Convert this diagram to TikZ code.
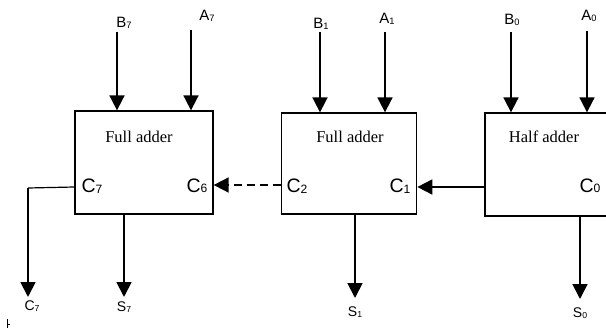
\documentclass[tikz,border=0pt]{standalone}
\usepackage{fontspec}
\setmainfont{Liberation Serif}
\newfontfamily\lab{Liberation Sans}
\usetikzlibrary{arrows.meta}
\newcommand{\sbs}[1]{\raisebox{-0.5pt}{\fontsize{0.62em}{1em}\selectfont #1}}
\tikzset{
  blk/.style={draw, line width=1.3pt, inner sep=0pt},
  arr/.style={line width=1.8pt, -{Triangle[width=15pt,length=15pt]}},
  inlab/.style={font=\lab\fontsize{15}{17}\selectfont, inner sep=0pt},
  carry/.style={font=\lab\fontsize{19.5}{21}\selectfont, inner sep=0pt},
  outlab/.style={font=\lab\fontsize{14}{16}\selectfont, inner sep=0pt},
  title/.style={font=\fontsize{16.5}{18}\selectfont, inner sep=0pt}
}
\begin{document}
\begin{tikzpicture}[x=1pt,y=-1pt]
\useasboundingbox (0,0) rectangle (606,329);
\clip (0,0) rectangle (606,329);
% blocks
\node[blk, minimum width=138pt, minimum height=103pt] (fa7) at (144,162.5) {};
\node[blk, minimum width=135pt, minimum height=101pt] (fa1) at (349.2,163.5) {};
\node[blk, minimum width=140pt, minimum height=103pt] (ha0) at (555,164.5) {};
% titles
\node[title] (t7) at (139,137) {Full adder};
\node[title] (t1) at (350,137) {Full adder};
\node[title] (t0) at (544,137) {Half adder};
% carry labels
\node[carry] (c7in) at (92,186) {C\sbs{7}};
\node[carry] (c6in) at (197,186) {C\sbs{6}};
\node[carry] (c2in) at (297,186) {C\sbs{2}};
\node[carry] (c1in) at (400,186) {C\sbs{1}};
\node[carry] (c0in) at (590,186) {C\sbs{0}};
% input labels
\node[inlab] (b7) at (124,23) {B\sbs{7}};
\node[inlab] (a7) at (207,16) {A\sbs{7}};
\node[inlab] (b1) at (321,24) {B\sbs{1}};
\node[inlab] (a1) at (387,19) {A\sbs{1}};
\node[inlab] (b0) at (512,20) {B\sbs{0}};
\node[inlab] (a0) at (589,16) {A\sbs{0}};
% input start points
\coordinate (b7s) at (117,32);
\coordinate (a7s) at (191,30);
\coordinate (b1s) at (320,32);
\coordinate (a1s) at (385,32);
\coordinate (b0s) at (511,32);
\coordinate (a0s) at (587,31);
\draw[arr] (b7s) -- (b7s |- fa7.north);
\draw[arr] (a7s) -- (a7s |- fa7.north);
\draw[arr] (b1s) -- (b1s |- fa1.north);
\draw[arr] (a1s) -- (a1s |- fa1.north);
\draw[arr] (b0s) -- (b0s |- ha0.north);
\draw[arr] (a0s) -- (a0s |- ha0.north);
% carries between blocks
\coordinate (cy1) at (0,187);
\coordinate (cy2) at (0,185);
\draw[arr] (ha0.west |- cy1) -- (fa1.east |- cy1);
\draw[arr, dash pattern=on 8pt off 5pt] (fa1.west |- cy2) -- (fa7.east |- cy2);
% outputs
\node[outlab] (s7) at (124,307) {S\sbs{7}};
\node[outlab] (s1) at (355,312) {S\sbs{1}};
\node[outlab] (s0) at (580,313) {S\sbs{0}};
\node[outlab] (c7) at (32,306) {C\sbs{7}};
\coordinate (s7s) at (124,0);
\coordinate (s1s) at (355,0);
\coordinate (s0s) at (580,0);
\coordinate (s7e) at (124,297);
\coordinate (s1e) at (355,298);
\coordinate (s0e) at (580,299);
\draw[arr] (s7s |- fa7.south) -- (s7e);
\draw[arr] (s1s |- fa1.south) -- (s1e);
\draw[arr] (s0s |- ha0.south) -- (s0e);
\coordinate (c7k) at (28,188);
\coordinate (c7e) at (28,297);
\draw[line width=1.2pt] (fa7.west |- 0,187) -- (c7k);
\draw[arr] (c7k) -- (c7e);
% small mark
\coordinate (m1) at (7,319);
\coordinate (m2) at (7,328);
\coordinate (m3) at (10,324);
\draw[line width=0.8pt] (m1) -- (m2);
\draw[line width=0.6pt] (7,324) -- (m3);
\end{tikzpicture}
\end{document}
